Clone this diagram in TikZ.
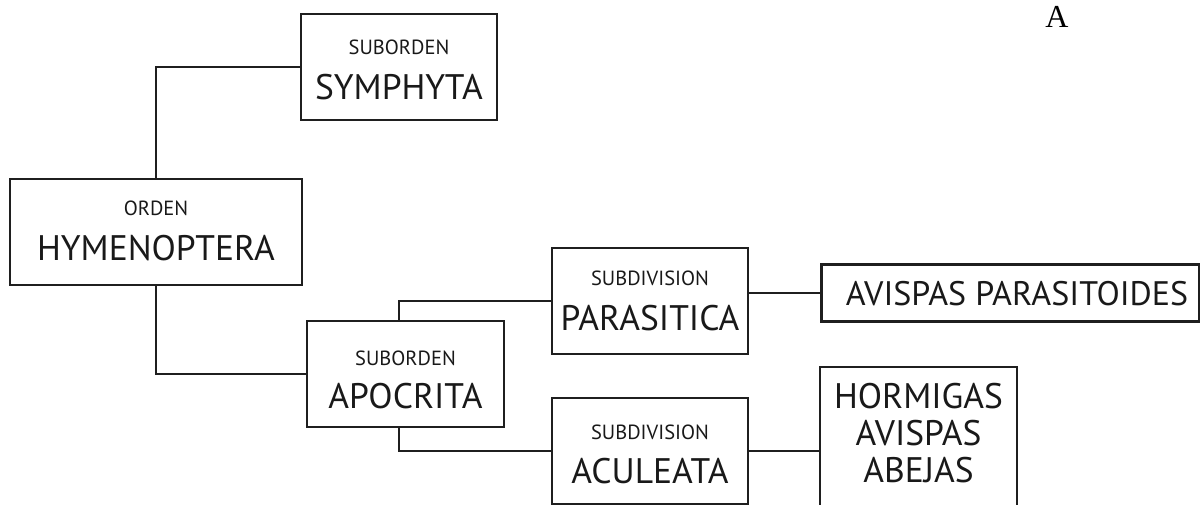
\documentclass[tikz,border=0pt]{standalone}
\usepackage{fontspec}
\setsansfont{PT Sans}
\newfontfamily\serifA{Liberation Serif}
\begin{document}
\begin{tikzpicture}[x=1pt,y=-1pt,
  box/.style={draw=black!88,line width=2.1pt,rectangle,inner sep=0pt},
  small/.style={font=\sffamily\fontsize{20.5}{24}\selectfont,anchor=base,inner sep=0pt,text=black!90},
  big/.style={font=\sffamily\fontsize{35.5}{40}\selectfont,anchor=base,inner sep=0pt,text=black!90},
  conn/.style={draw=black!88,line width=2.1pt}]
\useasboundingbox (0,0) rectangle (1200,504);
% boxes
\node[box,minimum width=196pt,minimum height=106pt] (sym) at (399,67) {};
\node[box,minimum width=292pt,minimum height=106pt] (hym) at (156,232) {};
\node[box,minimum width=197pt,minimum height=106pt] (apo) at (405.5,374) {};
\node[box,minimum width=196pt,minimum height=106pt] (par) at (650,301) {};
\node[box,minimum width=196pt,minimum height=106pt] (acu) at (650,451) {};
\node[box,minimum width=378pt,minimum height=57pt] (avp) at (1010.5,293) {};
\node[box,minimum width=197pt,minimum height=168pt] (hor) at (918.5,451) {};
% texts
\node[small] at (399,54) {SUBORDEN};
\node[big] at (399,99) {SYMPHYTA};
\node[small] at (156,215) {ORDEN};
\node[big] at (156,260) {HYMENOPTERA};
\node[small] at (405.5,365) {SUBORDEN};
\node[big] at (405.5,408) {APOCRITA};
\node[small] at (650,285) {SUBDIVISION};
\node[big] at (650,330) {PARASITICA};
\node[small] at (650,439) {SUBDIVISION};
\node[big] at (650,483) {ACULEATA};
\node[big,font=\sffamily\fontsize{34}{38}\selectfont] at (1017,305.5) {AVISPAS PARASITOIDES};
\node[big] at (918.5,408) {HORMIGAS};
\node[big] at (918.5,445) {AVISPAS};
\node[big] at (918.5,482) {ABEJAS};
\node[anchor=base,inner sep=0pt,font=\serifA\fontsize{32}{34}\selectfont] (lbl) at (1057,27) {A};
% connectors
\draw[conn] (sym.west) -| (hym.north);
\draw[conn] (hym.south) |- (apo.west);
\draw[conn] (apo.north -| 399,0) |- (par.west);
\draw[conn] (apo.south -| 399,0) |- (acu.west);
\draw[conn] (avp.west -| par.east) -- (avp.west);
\draw[conn] (acu.east) -- (hor.west);
\end{tikzpicture}
\end{document}
